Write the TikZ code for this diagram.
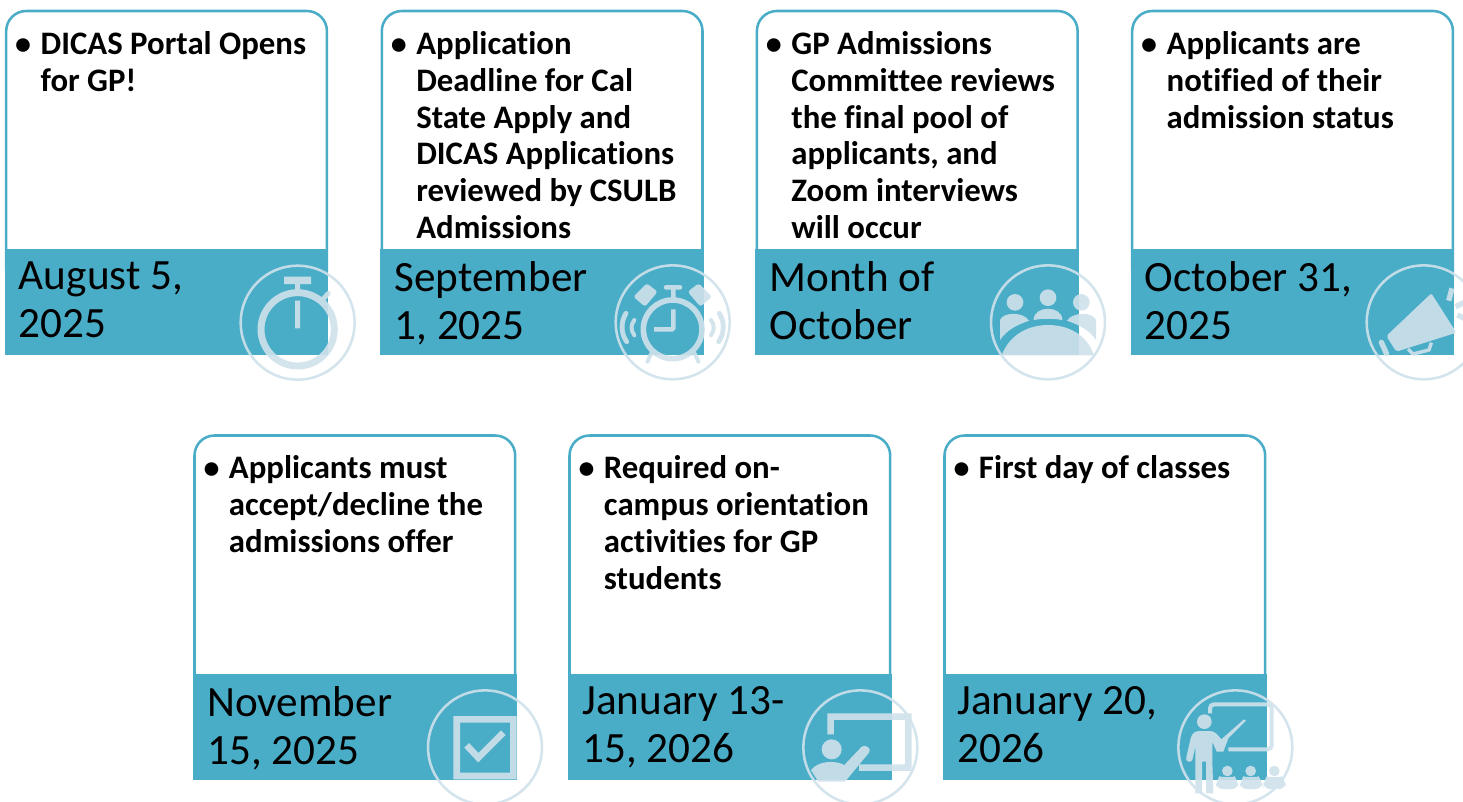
\documentclass[tikz,border=0pt]{standalone}
\usepackage{fontspec}
\setmainfont[Ligatures=NoCommon]{Carlito}
\definecolor{teal}{HTML}{4AADC8}
\definecolor{iconc}{HTML}{D0E2EB}
\tikzset{
  x=0.75pt,y=-0.75pt,
  cardbox/.style={draw=teal,line width=1.9pt,fill=white,rounded corners=15pt},
  band/.style={fill=teal},
  bodytext/.style={anchor=north west,inner sep=0pt,align=left,font=\fontsize{24.6pt}{27.65pt}\selectfont\bfseries,text=black},
  bullettext/.style={anchor=base,inner sep=0pt,font=\fontsize{24pt}{27.65pt}\selectfont\bfseries,text=black},
  datetext/.style={anchor=north west,inner sep=0pt,align=left,font=\fontsize{32.4pt}{35.8pt}\selectfont,text=black},
  ring/.style={draw=iconc,line width=1.9pt,circle,minimum size=83pt,inner sep=0pt,fill=none},
  iconscope/.style={transparency group,opacity=.9,x=0.25pt,y=-0.25pt},
  ifill/.style={fill=iconc,draw=none},
  iline/.style={draw=iconc,fill=none}
}
\newcommand{\cardat}[5]{%
  % #1 name, #2 left, #3 top, #4 body, #5 date
  \draw[cardbox] (#2+1.5,#3+1) rectangle (#2+322.2,#3+280);
  \fill[band] (#2,#3+239) rectangle (#2+323.6,#3+345);
  \node[bullettext] (#1bul) at (#2+18.5,#3+44) {•};
  \node[bodytext] (#1txt) at (#2+35.7,#3+21) {#4};
  \node[datetext] (#1dat) at (#2+14,#3+251.5) {#5};
}
\begin{document}
\begin{tikzpicture}
\useasboundingbox (0,0) rectangle (1463,801);
\clip (0,0) rectangle (1463,801);
\fill[white] (0,0) rectangle (1463,801);

\cardat{a}{4.7}{10}{DICAS Portal Opens\\for GP!}{August 5,\\2025}
\cardat{b}{380.3}{10}{Application\\Deadline for Cal\\State Apply and\\DICAS Applications\\reviewed by CSULB\\Admissions}{September\\1, 2025}
\cardat{c}{755.4}{10}{GP Admissions\\Committee reviews\\the final pool of\\applicants, and\\Zoom interviews\\will occur}{Month of\\October}
\cardat{d}{1130.7}{10}{Applicants are\\notified of their\\admission status}{October 31,\\2025}
\cardat{e}{193}{434.5}{Applicants must\\accept/decline the\\admissions offer}{November\\15, 2025}
\cardat{f}{568}{434.5}{Required on-\\campus orientation\\activities for GP\\students}{January 13-\\15, 2026}
\cardat{g}{943}{434.5}{First day of classes}{January 20,\\2026}

% stopwatch
\begin{scope}[shift={(0,230)},iconscope]
\draw[ring] (893,278) circle[radius=171];
\draw[iline,line width=5.2pt] (893,298) circle[radius=110];
\fill[ifill] (852,140) rectangle (933,162);
\fill[ifill] (885,160) rectangle (900,190);
\fill[ifill] (885,212) rectangle (900,295);
\draw[iline,line width=3.6pt,line cap=round] (965,212) -- (985,190);
\end{scope}

% alarm clock
\begin{scope}[shift={(590,250)},iconscope]
\draw[ring] (248,217) circle[radius=171];
\draw[iline,line width=4.2pt] (248,238) circle[radius=88];
\draw[iline,line width=3.4pt,rounded corners=1pt] (250,178) -- (250,238) -- (192,238);
\draw[iline,line width=3.4pt,line cap=round] (228,112) -- (270,112);
\fill[ifill] (243,112) rectangle (257,150);
\fill[ifill,rounded corners=2pt] (170,100) -- (203,125) -- (165,170) -- (130,140) -- cycle;
\fill[ifill,rounded corners=2pt] (326,100) -- (293,125) -- (331,170) -- (366,140) -- cycle;
\draw[iline,line width=3pt,line cap=round] (183,312) -- (172,335);
\draw[iline,line width=3pt,line cap=round] (315,312) -- (325,335);
\draw[iline,line width=3.6pt,line cap=round] (108,190) .. controls (92,215) and (92,250) .. (110,275);
\draw[iline,line width=3pt,line cap=round] (133,210) .. controls (122,225) and (122,240) .. (133,256);
\draw[iline,line width=3.6pt,line cap=round] (388,190) .. controls (404,215) and (404,250) .. (386,275);
\draw[iline,line width=3pt,line cap=round] (363,210) .. controls (374,225) and (374,240) .. (363,256);
\end{scope}

% people at table
\begin{scope}[shift={(970,250)},iconscope]
\draw[ring] (234,217) circle[radius=171];
\fill[ifill] (135,157) circle[radius=25];
\fill[ifill] (234,143) circle[radius=25];
\fill[ifill] (334,157) circle[radius=25];
\fill[ifill] (90,270) -- (90,210) .. controls (100,185) and (160,185) .. (177,212) .. controls (140,225) and (110,240) .. (90,270) -- cycle;
\fill[ifill] (378,270) -- (378,210) .. controls (368,185) and (308,185) .. (291,212) .. controls (328,225) and (358,240) .. (378,270) -- cycle;
\fill[ifill] (191,210) .. controls (191,165) and (277,165) .. (277,210) .. controls (250,205) and (215,205) .. (191,210) -- cycle;
\fill[ifill] (95,316) .. controls (120,250) and (180,225) .. (234,225) .. controls (290,225) and (350,250) .. (372,316) -- cycle;
\end{scope}

% megaphone
\begin{scope}[shift={(1343,250)},iconscope]
\draw[ring] (242,217) circle[radius=171];
\fill[ifill,rounded corners=1.5pt] (130,258) -- (265,130) -- (340,248) -- (160,305) -- cycle;
\draw[iline,line width=2.6pt,line join=round] (195,297) -- (210,312) -- (258,300) -- (265,278);
\draw[iline,line width=4pt,line cap=round] (115,277) -- (130,310);
\draw[iline,line width=4pt] (327,115) -- (317,152);
\draw[iline,line width=4pt] (338,170) -- (364,157);
\draw[iline,line width=4pt] (343,195) -- (364,205);
\end{scope}

% checkbox
\begin{scope}[shift={(410,670)},iconscope]
\draw[ring] (225,232) circle[radius=171];
\draw[iline,line width=5pt] (140,148) rectangle (310,318);
\draw[iline,line width=5pt] (170,226) -- (205,263) -- (280,188);
\end{scope}

% pointing presenter
\begin{scope}[shift={(785,670)},iconscope]
\draw[ring] (226,232) circle[radius=171];
\draw[iline,line width=4.8pt] (137,193) -- (137,140) -- (370,140) -- (370,293) -- (222,293);
\fill[ifill] (140,238) circle[radius=30];
\fill[ifill] (78,300) .. controls (100,272) and (150,270) .. (178,285) -- (230,230) .. controls (240,222) and (262,235) .. (252,248) -- (180,335) -- (100,335) -- cycle;
\end{scope}

% teacher
\begin{scope}[shift={(1160,670)},iconscope]
\draw[ring] (226,232) circle[radius=171];
\draw[iline,line width=3pt,rounded corners=3pt] (150,130) -- (150,103) -- (335,103) -- (335,238) -- (205,238);
\fill[ifill] (133,155) circle[radius=22];
\fill[ifill] (184,208) -- (252,148) -- (258,152) -- (205,205) -- (190,245) -- (170,245) -- (157,215) -- (157,275) -- (160,370) -- (138,370) -- (138,275) -- (126,275) -- (126,370) -- (106,370) -- (106,230) -- (97,270) .. controls (92,280) and (75,275) .. (79,262) -- (92,205) .. controls (96,190) and (105,183) .. (118,183) -- (148,183) .. controls (165,183) and (170,192) .. cycle;
\foreach \hx/\bl in {202/168,272/240,343/310}{
  \fill[ifill] (\hx,303) circle[radius=16];
  \fill[ifill,rounded corners=5pt] (\bl,357) -- (\bl,335) .. controls (\bl+8,322) and (\bl+58,322) .. (\bl+67,335) -- (\bl+67,357) -- cycle;
}
\end{scope}
\end{tikzpicture}
\end{document}
